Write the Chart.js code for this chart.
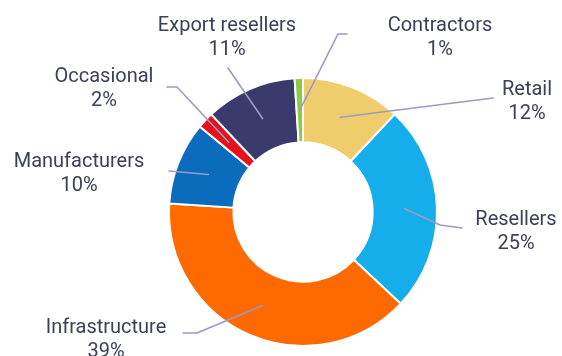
<!DOCTYPE html>
<html>
<head>
<meta charset="utf-8">
<script src="https://cdn.jsdelivr.net/npm/chart.js@4/dist/chart.umd.min.js"></script>
<style>
  html, body { margin: 0; padding: 0; background: #ffffff; }
  #wrap { width: 562px; height: 356px; }
</style>
</head>
<body>
<div id="wrap"><canvas id="chart" width="562" height="356"></canvas></div>
<script>
// Customer mix, share of sales in percent (clockwise from 12 o'clock)
const categories = ['Retail', 'Resellers', 'Infrastructure', 'Manufacturers', 'Occasional', 'Export resellers', 'Contractors'];
const shares = [12, 25, 39, 10, 2, 11, 1];
const sliceColors = ['#EFCD6C', '#15AEEA', '#FF6A00', '#0B6CBD', '#E5121B', '#3B3A6D', '#8CCB48'];

// Where each label sits (centre x, baseline of first line) and the bend / end of its leader line
const labelLayout = [
  { x: 527, y: 95,  path: [[493, 98]] },
  { x: 516, y: 225, path: [[440, 225], [462, 228]] },
  { x: 106, y: 333, path: [[197, 333], [183, 333]] },
  { x: 79,  y: 167, path: [[169, 171]] },
  { x: 104, y: 82,  path: [[177, 87], [167, 87]] },
  { x: 227, y: 31,  path: [[228, 68]] },
  { x: 440, y: 31,  path: [[338, 34], [347, 34]] }
];

const TEXT_COLOR = '#3b4157';
const LEADER_COLOR = '#9d99c2';
const LINE_GAP = 24;

const outsideLabels = {
  id: 'outsideLabels',
  afterDatasetsDraw(chart) {
    const ctx = chart.ctx;
    const meta = chart.getDatasetMeta(0);
    ctx.save();
    meta.data.forEach((arc, i) => {
      const p = arc.getProps(['x', 'y', 'startAngle', 'endAngle', 'innerRadius', 'outerRadius'], true);
      const mid = (p.startAngle + p.endAngle) / 2;
      const r = (p.innerRadius + p.outerRadius) / 2;
      const sx = p.x + Math.cos(mid) * r;
      const sy = p.y + Math.sin(mid) * r;
      const lay = labelLayout[i];

      // leader line from the middle of the slice to the label
      ctx.beginPath();
      ctx.moveTo(sx, sy);
      lay.path.forEach(pt => ctx.lineTo(pt[0], pt[1]));
      ctx.strokeStyle = LEADER_COLOR;
      ctx.lineWidth = 1.6;
      ctx.lineJoin = 'round';
      ctx.lineCap = 'round';
      ctx.stroke();

      // two-line label: name, then percentage
      ctx.fillStyle = TEXT_COLOR;
      ctx.font = '400 20px Roboto, "Noto Sans", sans-serif';
      ctx.textAlign = 'center';
      ctx.textBaseline = 'alphabetic';
      ctx.fillText(categories[i], lay.x, lay.y);
      ctx.fillText(shares[i] + '%', lay.x, lay.y + LINE_GAP);
    });
    ctx.restore();
  }
};

new Chart(document.getElementById('chart'), {
  type: 'doughnut',
  data: {
    labels: categories,
    datasets: [{
      data: shares,
      backgroundColor: sliceColors,
      borderColor: '#ffffff',
      borderWidth: 2,
      hoverOffset: 0,
      offset: 0
    }]
  },
  options: {
    responsive: false,
    animation: false,
    cutout: '52%',
    rotation: 0,
    layout: { padding: { top: 77, bottom: 9, left: 44, right: 0 } },
    plugins: {
      legend: { display: false },
      tooltip: { enabled: false }
    },
    events: []
  },
  plugins: [outsideLabels]
});
</script>
</body>
</html>
